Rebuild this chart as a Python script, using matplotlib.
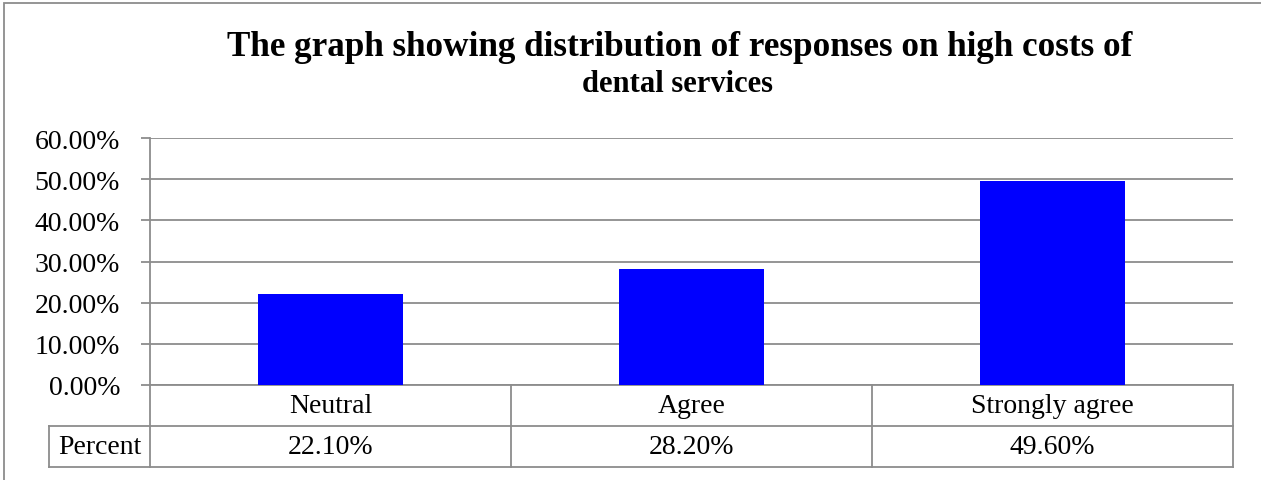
import matplotlib
matplotlib.use("Agg")
import matplotlib.pyplot as plt
from matplotlib.patches import Rectangle
from matplotlib.lines import Line2D
import matplotlib.transforms as mtransforms

categories = ["Neutral", "Agree", "Strongly agree"]
values = [22.10, 28.20, 49.60]
row_label = "Percent"
yticks = [0, 10, 20, 30, 40, 50, 60]
title_line1 = "The graph showing distribution of responses on high costs of"
title_line2 = "dental services"

W, H = 1261, 481
fig = plt.figure(figsize=(W / 100, H / 100), dpi=100)
plt.rcParams['font.family'] = ['Liberation Serif', 'DejaVu Serif']

gray = "#8c8c8c"
L, R, T, B = 150, 1233, 139, 386
ax = fig.add_axes([L / W, (H - B) / H, (R - L) / W, (B - T) / H])

x = list(range(len(categories)))
ax.bar(x, values, width=0.4, color="#0000FF", zorder=3)
ax.set_xlim(-0.5, len(categories) - 0.5)
ax.set_ylim(0, 60)
ax.set_yticks(yticks)
ax.set_yticklabels([f"{v:.2f}%" for v in yticks], fontsize=20)
ax.tick_params(axis='y', length=6.5, width=1.3, color=gray, pad=15)
ax.set_xticks([])
for s in ["top", "right", "bottom"]:
    ax.spines[s].set_visible(False)
ax.spines["left"].set_color(gray)
ax.spines["left"].set_linewidth(1.3)
ax.yaxis.grid(True, color=gray, linewidth=1.3, zorder=0)
ax.set_axisbelow(True)

# data table below the axes
rh = 41 / (B - T)
trans = mtransforms.blended_transform_factory(ax.transData, ax.transAxes)
lw = 1.3
def hline(x0, x1, y, t=trans):
    ax.add_line(Line2D([x0, x1], [y, y], transform=t, color=gray, lw=lw, clip_on=False))
def vline(xx, y0, y1, t=trans):
    ax.add_line(Line2D([xx, xx], [y0, y1], transform=t, color=gray, lw=lw, clip_on=False))

xl, xr = -0.5, len(categories) - 0.5
hline(xl, xr, 0)
left_axes = (49 - L) / (R - L)
ta = ax.transAxes
hline(left_axes, 1, -rh, ta)
hline(left_axes, 1, -2 * rh, ta)
vline(left_axes, -rh, -2 * rh, ta)
vline(0, 0, -2 * rh, ta)
vline(1, 0, -2 * rh, ta)
for i in range(1, len(categories)):
    vline(i - 0.5, 0, -2 * rh)
for i, (c, v) in enumerate(zip(categories, values)):
    ax.text(i, -rh / 2, c, transform=trans, ha='center', va='center', fontsize=20, clip_on=False)
    ax.text(i, -1.5 * rh, f"{v:.2f}%", transform=trans, ha='center', va='center', fontsize=20, clip_on=False)
ax.text(left_axes / 2, -1.5 * rh, row_label, transform=ta, ha='center', va='center', fontsize=20)

# titles
fig.text(680 / W, 1 - 47 / H, title_line1, ha='center', va='center', fontsize=25.3, fontweight='bold')
fig.text(677 / W, 1 - 85 / H, title_line2, ha='center', va='center', fontsize=22, fontweight='bold')

# outer frame
fig.add_artist(Rectangle((4 / W, -0.1), 1.2, 1 - 4 / H + 0.1, transform=fig.transFigure,
                         fill=False, edgecolor=gray, lw=1.3))

fig.savefig("out.png", dpi=100)
